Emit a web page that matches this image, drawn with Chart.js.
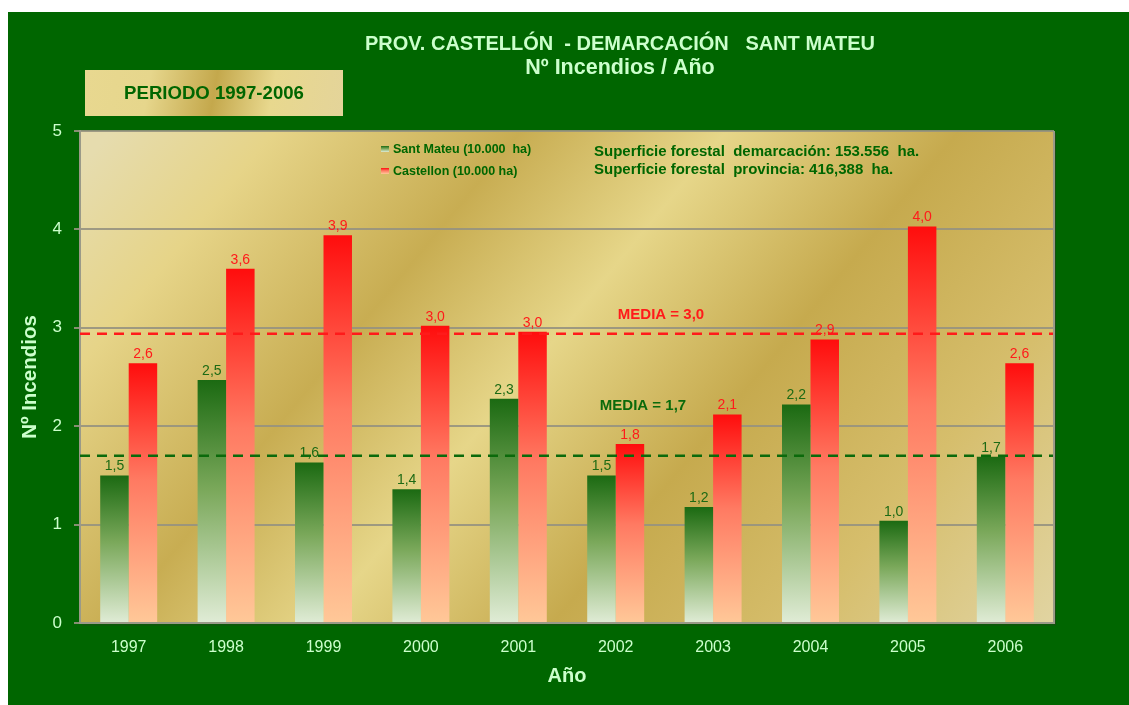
<!DOCTYPE html>
<html>
<head>
<meta charset="utf-8">
<script src="https://cdn.jsdelivr.net/npm/chart.js@4.4.0/dist/chart.umd.min.js"></script>
<style>
  html, body { margin: 0; padding: 0; background: #fff; }
  #wrap { width: 1129px; height: 705px; }
</style>
</head>
<body>
<div id="wrap"><canvas id="incendiosChart" width="1129" height="705"></canvas></div>
<script>
// Datos
const years = ['1997', '1998', '1999', '2000', '2001', '2002', '2003', '2004', '2005', '2006'];
const santMateu = [1.50, 2.47, 1.63, 1.36, 2.28, 1.50, 1.18, 2.22, 1.04, 1.69];
const castellon = [2.64, 3.60, 3.94, 3.02, 2.96, 1.82, 2.12, 2.88, 4.03, 2.64];
const seriesNames = ['Sant Mateu (10.000  ha)', 'Castellon (10.000 ha)'];
const mediaValues = [1.70, 2.94];
const mediaLabels = ['MEDIA = 1,7', 'MEDIA = 3,0'];
const yTicks = [0, 1, 2, 3, 4, 5];
const titleLines = ['PROV. CASTELLÓN  - DEMARCACIÓN   SANT MATEU', 'Nº Incendios / Año'];
const periodLabel = 'PERIODO 1997-2006';
const infoLines = ['Superficie forestal  demarcación: 153.556  ha.', 'Superficie forestal  provincia: 416,388  ha.'];

const FONT = "'Liberation Sans', Arial, sans-serif";
const LIGHT = '#ccffcc';
const DARK_GREEN = '#006600';
const greenStops = [[0, '#1b6a12'], [0.45, '#7aa85a'], [1, '#e0ecd6']];
const redStops = [[0, '#ff0d0d'], [0.45, '#ff7a62'], [1, '#ffc898']];

function makeGradient(ctx, x0, y0, x1, y1, stops) {
    const g = ctx.createLinearGradient(x0, y0, x1, y1);
    stops.forEach(s => g.addColorStop(s[0], s[1]));
    return g;
}

function barColor(stops) {
    return (c) => {
        const chart = c.chart;
        if (!chart.chartArea || c.type !== 'data') return stops[0][1];
        const y = chart.scales.y;
        const top = y.getPixelForValue(c.raw);
        const bottom = y.getPixelForValue(0);
        return makeGradient(chart.ctx, 0, top, 0, bottom, stops);
    };
}

const decoPlugin = {
    id: 'deco',
    beforeDraw(chart) {
        const ctx = chart.ctx;
        const a = chart.chartArea;
        ctx.save();
        ctx.fillStyle = '#ffffff';
        ctx.fillRect(0, 0, chart.width, chart.height);
        ctx.fillStyle = DARK_GREEN;
        ctx.fillRect(8, 12, chart.width - 8, chart.height - 12);

        // fondo dorado del área de trazado
        ctx.fillStyle = makeGradient(ctx, a.left + 80, a.top - 60, a.right - 80, a.bottom + 120, [
            [0, '#e6dcae'], [0.12, '#e6d488'], [0.3, '#c8ad52'], [0.45, '#e6d689'],
            [0.62, '#c6aa4e'], [0.8, '#d6be6c'], [1, '#e2d6a6']
        ]);
        ctx.fillRect(a.left, a.top, a.right - a.left, a.bottom - a.top);

        // títulos
        ctx.fillStyle = LIGHT;
        ctx.textAlign = 'center';
        ctx.textBaseline = 'middle';
        ctx.font = 'bold 20px ' + FONT;
        ctx.fillText(titleLines[0], 620, 44);
        ctx.font = 'bold 21.5px ' + FONT;
        ctx.fillText(titleLines[1], 620, 68);

        // recuadro del periodo
        ctx.fillStyle = makeGradient(ctx, 85, 70, 343, 116, [
            [0, '#e8d890'], [0.25, '#e6d68c'], [0.5, '#c4a84c'], [0.72, '#e8d88e'], [1, '#e4d49a']
        ]);
        ctx.fillRect(85, 70, 258, 46);
        ctx.fillStyle = DARK_GREEN;
        ctx.font = 'bold 18.6px ' + FONT;
        ctx.fillText(periodLabel, 214, 94);
        ctx.restore();
    },
    afterDatasetsDraw(chart) {
        const ctx = chart.ctx;
        const a = chart.chartArea;
        const y = chart.scales.y;
        ctx.save();
        // etiquetas de valor
        ctx.font = '14px ' + FONT;
        ctx.textAlign = 'center';
        ctx.textBaseline = 'bottom';
        chart.data.datasets.forEach((ds, i) => {
            ctx.fillStyle = i === 0 ? '#1d6a14' : '#ff1a1a';
            chart.getDatasetMeta(i).data.forEach((el, j) => {
                ctx.fillText(ds.data[j].toFixed(1).replace('.', ','), el.x, el.y - 2);
            });
        });

        // líneas de media
        ctx.lineWidth = 2.5;
        ctx.setLineDash([10, 7]);
        mediaValues.forEach((v, i) => {
            const py = y.getPixelForValue(v);
            ctx.strokeStyle = i === 0 ? '#0b6a0b' : '#ff1a1a';
            ctx.beginPath();
            ctx.moveTo(a.left, py);
            ctx.lineTo(a.right, py);
            ctx.stroke();
        });
        ctx.setLineDash([]);

        ctx.font = 'bold 15px ' + FONT;
        ctx.textBaseline = 'middle';
        ctx.fillStyle = '#0b6a0b';
        ctx.fillText(mediaLabels[0], 643, 406);
        ctx.fillStyle = '#ff1a1a';
        ctx.fillText(mediaLabels[1], 661, 315);

        // borde derecho con sombra
        ctx.strokeStyle = '#9a9a88';
        ctx.lineWidth = 2;
        ctx.beginPath();
        ctx.moveTo(a.right, a.top);
        ctx.lineTo(a.right, a.bottom);
        ctx.stroke();
        ctx.strokeStyle = 'rgba(40,60,30,0.6)';
        ctx.lineWidth = 1;
        ctx.beginPath();
        ctx.moveTo(a.right + 1.5, a.top + 2);
        ctx.lineTo(a.right + 1.5, a.bottom + 2);
        ctx.lineTo(a.left + 2, a.bottom + 2);
        ctx.stroke();

        // leyenda
        ctx.textAlign = 'left';
        ctx.font = 'bold 12.5px ' + FONT;
        [greenStops, redStops].forEach((stops, i) => {
            const ly = 149 + i * 22;
            ctx.fillStyle = makeGradient(ctx, 0, ly - 3, 0, ly + 3, stops);
            ctx.fillRect(381, ly - 3, 8, 6);
            ctx.fillStyle = DARK_GREEN;
            ctx.fillText(seriesNames[i], 393, ly + 1);
        });

        // superficies
        ctx.font = 'bold 15px ' + FONT;
        infoLines.forEach((t, i) => ctx.fillText(t, 594, 152 + i * 18));
        ctx.restore();
    }
};

new Chart(document.getElementById('incendiosChart'), {
    type: 'bar',
    data: {
        labels: years,
        datasets: [
            {
                label: seriesNames[0],
                data: santMateu,
                backgroundColor: barColor(greenStops),
                borderWidth: 0,
                categoryPercentage: 0.585,
                barPercentage: 1.0
            },
            {
                label: seriesNames[1],
                data: castellon,
                backgroundColor: barColor(redStops),
                borderWidth: 0,
                categoryPercentage: 0.585,
                barPercentage: 1.0
            }
        ]
    },
    options: {
        responsive: false,
        animation: false,
        layout: { padding: { left: 0, right: 75, top: 131, bottom: 0 } },
        plugins: {
            legend: { display: false },
            title: { display: false },
            tooltip: { enabled: false }
        },
        scales: {
            x: {
                grid: { display: false, drawTicks: false },
                border: { display: true, color: '#9a9a88', width: 2 },
                ticks: { color: LIGHT, font: { size: 16, family: FONT }, padding: 15 },
                title: {
                    display: true, text: 'Año', color: LIGHT,
                    font: { size: 20, weight: 'bold', family: FONT },
                    padding: { top: 0, bottom: 17 }
                },
                afterFit: (scale) => { scale.height = 82; }
            },
            y: {
                min: 0,
                max: 5,
                afterBuildTicks: (scale) => { scale.ticks = yTicks.map(v => ({ value: v })); },
                grid: { color: 'rgba(150,146,128,0.9)', lineWidth: 2, tickLength: 6 },
                border: { display: true, color: '#9a9a88', width: 2 },
                ticks: { color: LIGHT, font: { size: 17, family: FONT }, padding: 12 },
                title: {
                    display: true, text: 'Nº Incendios', color: LIGHT,
                    font: { size: 20.5, weight: 'bold', family: FONT },
                    padding: { top: 18, bottom: 18 }
                },
                afterFit: (scale) => { scale.width = 80; }
            }
        }
    },
    plugins: [decoPlugin]
});
</script>
</body>
</html>
